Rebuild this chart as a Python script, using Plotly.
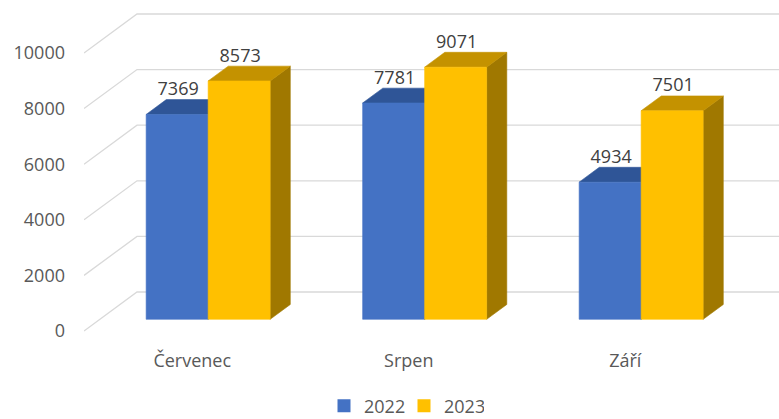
import plotly.graph_objects as go

# ---- data ----
categories = ["Červenec", "Srpen", "Září"]
series_names = ["2022", "2023"]
values_2022 = [7369, 7781, 4934]
values_2023 = [8573, 9071, 7501]
y_ticks = [0, 2000, 4000, 6000, 8000, 10000]

# ---- styling / geometry ----
W, H = 779, 419
ML, MR, MT, MB = 84, 0, 0, 74
PX_PER_CAT = 216.5           # px per category on the front plane
PX_PER_VAL = 0.0278          # px per value unit
ZERO_PX = 331                # pixel row of value 0 on front plane
DEPTH_PX = (53, 39)          # oblique offset of full depth (right, up)

DX = DEPTH_PX[0] / PX_PER_CAT   # x-units per full depth
DY = DEPTH_PX[1] / PX_PER_VAL   # value units per full depth
BAR_W = 62 / PX_PER_CAT
D0, D1 = 0.30, 0.68             # bar depth start/end (fraction of full depth)

plot_h = H - MT - MB
plot_w = W - ML - MR
y_top = (ZERO_PX - MT) / PX_PER_VAL
y_bot = -(MT + plot_h - ZERO_PX) / PX_PER_VAL
x_max = plot_w / PX_PER_CAT

front_cols = ["#4472C4", "#FFC000"]
top_cols = ["#2F5597", "#C49200"]
side_cols = ["#284B86", "#A07800"]
grid_col = "#D9D9D9"
axis_txt = "#595959"
label_txt = "#404040"
FONT = "Open Sans"
FS = 18

LEG_LEFT_PX = 338 - 14      # legend box left edge (first square at ~338)
LEG_MID_PX = 406            # legend vertical centre

fig = go.Figure()

# gridlines: side-wall diagonal + back-wall horizontal
for v in y_ticks:
    fig.add_trace(go.Scatter(
        x=[0, DX, x_max], y=[v, v + DY, v + DY], mode="lines",
        line=dict(color=grid_col, width=1.3), hoverinfo="skip", showlegend=False))

def poly(xs, ys, color):
    fig.add_trace(go.Scatter(
        x=xs + [xs[0]], y=ys + [ys[0]], mode="lines", fill="toself",
        fillcolor=color, line=dict(color=color, width=0.6),
        hoverinfo="skip", showlegend=False))

all_series = [values_2022, values_2023]
labels_x, labels_y, labels_t = [], [], []
for k, cat in enumerate(categories):
    c = k + 0.5
    for s, vals in enumerate(all_series):
        v = vals[k]
        x0 = c - BAR_W + s * BAR_W
        x1 = x0 + BAR_W
        fx0, fx1 = x0 + D0 * DX, x1 + D0 * DX
        bx0, bx1 = x0 + D1 * DX, x1 + D1 * DX
        fy0, fv = D0 * DY, v + D0 * DY
        by0, bv = D1 * DY, v + D1 * DY
        # side face
        poly([fx1, bx1, bx1, fx1], [fy0, by0, bv, fv], side_cols[s])
        # top face
        poly([fx0, fx1, bx1, bx0], [fv, fv, bv, bv], top_cols[s])
        # front face
        poly([fx0, fx1, fx1, fx0], [fy0, fy0, fv, fv], front_cols[s])
        labels_x.append((fx0 + fx1) / 2 + 1 / PX_PER_CAT)
        labels_y.append(bv + 9 / PX_PER_VAL)
        labels_t.append(str(v))

fig.add_trace(go.Scatter(
    x=labels_x, y=labels_y, text=labels_t, mode="text",
    textposition="middle center",
    textfont=dict(family=FONT, size=FS, color=label_txt),
    hoverinfo="skip", showlegend=False))

# legend entries
for s, name in enumerate(series_names):
    fig.add_trace(go.Scatter(
        x=[None], y=[None], mode="markers", name=name,
        marker=dict(symbol="square", size=13, color=front_cols[s])))

fig.update_layout(
    width=W, height=H,
    margin=dict(l=ML, r=MR, t=MT, b=MB, autoexpand=False),
    paper_bgcolor="white", plot_bgcolor="white",
    font=dict(family=FONT, color=axis_txt, size=FS),
    showlegend=True,
    legend=dict(orientation="h", x=(LEG_LEFT_PX - ML) / plot_w, xanchor="left",
                y=-(LEG_MID_PX - (H - MB)) / plot_h, yanchor="middle",
                font=dict(family=FONT, size=FS, color=axis_txt),
                itemwidth=30, entrywidth=35, traceorder="normal",
                bgcolor="rgba(0,0,0,0)"),
    xaxis=dict(range=[0, x_max], showgrid=False, zeroline=False,
               showline=False, tickmode="array",
               tickvals=[k + 0.5 for k in range(len(categories))],
               ticktext=categories, ticks="", automargin=False,
               ticklabelstandoff=3, fixedrange=True),
    yaxis=dict(range=[y_bot, y_top], showgrid=False, zeroline=False,
               showline=False, tickmode="array", tickvals=y_ticks,
               ticktext=[str(t) for t in y_ticks], ticks="",
               automargin=False, ticklabelstandoff=18, fixedrange=True),
)

fig.write_html("out.html", config={"displayModeBar": False},
               post_script="document.body.style.margin='0';"
                           "document.body.style.overflow='hidden';")
